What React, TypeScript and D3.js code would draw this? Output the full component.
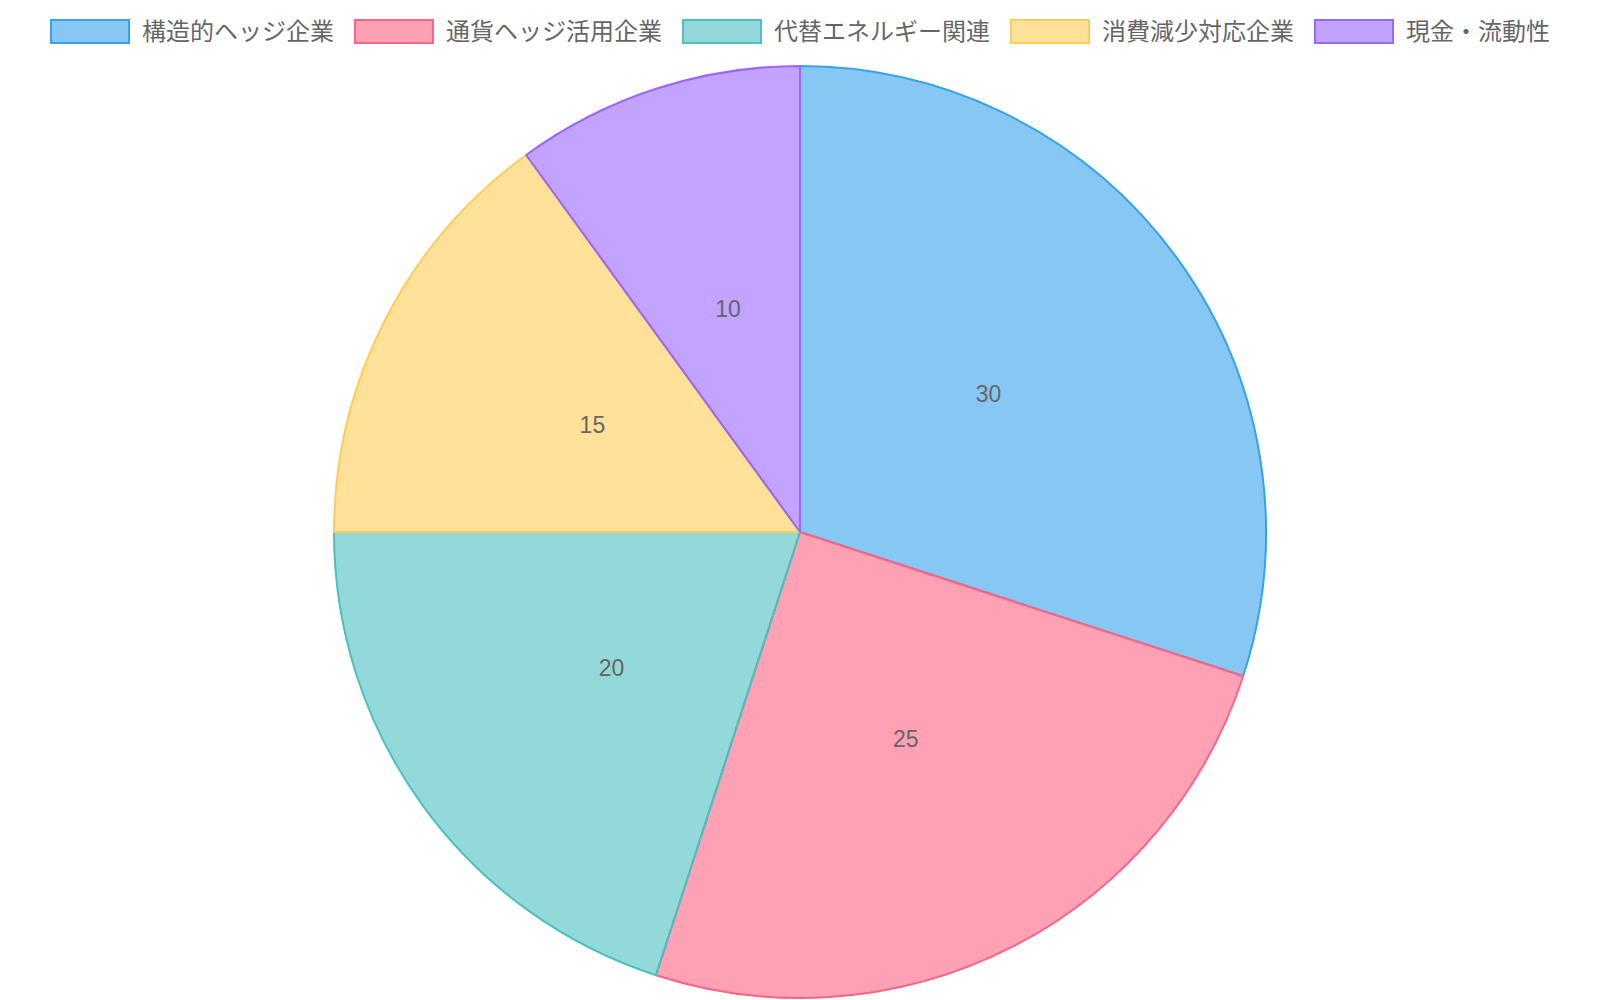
import { useEffect } from 'react';
import * as d3 from 'd3';

// slice data (percent of portfolio)
const categories = ['構造的ヘッジ企業', '通貨ヘッジ活用企業', '代替エネルギー関連', '消費減少対応企業', '現金・流動性'];
const values = [30, 25, 20, 15, 10];
const strokes = ['rgb(54,162,235)', 'rgb(255,99,132)', 'rgb(75,192,192)', 'rgb(255,205,86)', 'rgb(153,102,255)'];
const fills = ['rgba(54,162,235,0.6)', 'rgba(255,99,132,0.6)', 'rgba(75,192,192,0.6)', 'rgba(255,205,86,0.6)', 'rgba(153,102,255,0.6)'];

const W = 1600;
const H = 1000;
const FONT = '"Liberation Sans", Arial, "Noto Sans CJK JP", sans-serif';

export default function App() {
  useEffect(() => {
    document.body.style.margin = '0';
  }, []);

  // legend layout, centred in one row
  const fontSize = 24;
  const boxW = 80;
  const boxH = 25;
  const gap = 20;
  const textW = categories.map((c) => c.length * fontSize);
  const itemW = textW.map((t) => boxW + fontSize / 2 + t);
  const total = d3.sum(itemW) + gap * (categories.length - 1);
  let cursor = (W - total) / 2;
  const legendX = itemW.map((w) => {
    const x0 = cursor;
    cursor += w + gap;
    return x0;
  });
  const legendY = 19;

  const cx = W / 2;
  const cy = 532;
  const r = 466;

  const pie = d3.pie<number>().sort(null).value((d) => d);
  const arcs = pie(values);
  const arcGen = d3.arc<d3.PieArcDatum<number>>().innerRadius(0).outerRadius(r);
  // value labels sit halfway out along each slice
  const labelArc = d3.arc<d3.PieArcDatum<number>>().innerRadius(r / 2).outerRadius(r / 2);

  return (
    <svg width={W} height={H} style={{ display: 'block', background: '#fff' }} fontFamily={FONT}>
      {/* legend */}
      {categories.map((c, i) => (
        <g key={c} transform={`translate(${legendX[i]}, ${legendY})`}>
          <rect x={1} y={1} width={boxW - 2} height={boxH - 2} fill={fills[i]} stroke={strokes[i]} strokeWidth={2} />
          <text x={boxW + fontSize / 2} y={boxH / 2} dy="0.35em" fontSize={fontSize} fill="#666">
            {c}
          </text>
        </g>
      ))}

      {/* slices */}
      <g transform={`translate(${cx}, ${cy})`}>
        {arcs.map((a, i) => (
          <path key={i} d={arcGen(a) ?? undefined} fill={fills[i]} stroke={strokes[i]} strokeWidth={2} strokeLinejoin="bevel" />
        ))}
        {arcs.map((a, i) => {
          const [lx, ly] = labelArc.centroid(a);
          return (
            <text key={`l-${i}`} x={lx} y={ly} dy="0.3em" textAnchor="middle" fontSize={23} fill="#666">
              {values[i]}
            </text>
          );
        })}
      </g>
    </svg>
  );
}
